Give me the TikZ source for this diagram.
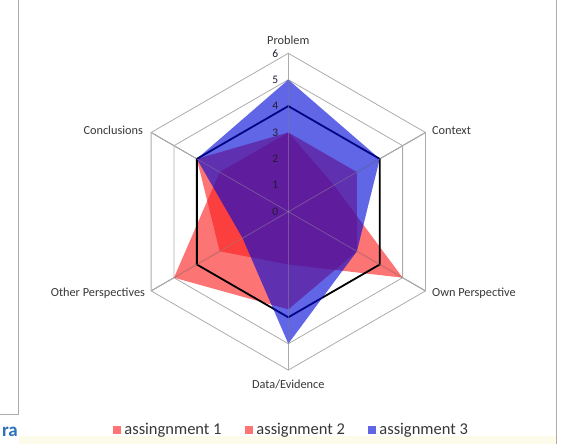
\documentclass[tikz,border=0pt]{standalone}
\usepackage{fontspec}
\setmainfont{Carlito}
\usepackage{xcolor}
\usetikzlibrary{positioning}

\definecolor{gridgray}{RGB}{172,172,172}
\definecolor{labelgray}{RGB}{55,55,55}
\definecolor{tickgray}{RGB}{35,25,45}
\definecolor{seriesred}{RGB}{250,30,30}
\definecolor{seriesblue}{RGB}{0,8,215}
\definecolor{cutblue}{RGB}{45,115,185}
\definecolor{creamband}{RGB}{253,251,234}

% one radar polygon: style, then the six values (Problem, Context, Own, Data, Other, Conclusions)
\newcommand{\radarpoly}[7]{%
  \path[#1] (90:#2*\rad) -- (30:#3*\rad) -- (-30:#4*\rad) -- (-90:#5*\rad)
    -- (210:#6*\rad) -- (150:#7*\rad) -- cycle;}

\begin{document}
\begin{tikzpicture}[x=1pt, y=1pt,
    ring/.style={draw=gridgray, line width=0.8pt},
    spoke/.style={draw=gridgray, line width=0.8pt},
    spokeover/.style={draw=gridgray, line width=0.8pt, draw opacity=0.4},
    axislabel/.style={font=\fontsize{12.3}{14}\selectfont, text=labelgray, inner sep=1pt},
    ticklabel/.style={font=\fontsize{11.5}{13}\selectfont, text=tickgray, inner sep=1pt, anchor=east},
    redseries/.style={fill=seriesred, fill opacity=0.62},
    blueseries/.style={fill=seriesblue, fill opacity=0.62},
    target/.style={draw=black, line width=1.8pt, line join=miter},
    legendkey/.style={minimum size=8pt, inner sep=0pt},
    legendtext/.style={font=\fontsize{16.5}{19}\selectfont, text=labelgray, inner sep=1pt}
]
\useasboundingbox (0,0) rectangle (561,444);
\def\rad{26.4}

% Frame of the chart
\fill[creamband] (19,0) rectangle (556,8);
\draw[gridgray, line width=0.8pt] (18,444) -- (18,30) -- (0,30);
\draw[gridgray, line width=0.8pt] (556,0) -- (556,444);
\node[font=\bfseries\fontsize{19}{22}\selectfont, text=cutblue, anchor=east, inner sep=0pt] (cut) at (18,12) {ra};

\begin{scope}[shift={(288.3,232.3)}]
    \coordinate (ctr) at (0,0);
    \foreach \a/\n in {90/ax1, 30/ax2, -30/ax3, -90/ax4, 210/ax5, 150/ax6}
        \coordinate (\n) at (\a:6*\rad);

    % Grid (inner rings lie under the fills)
    \foreach \r in {4,5,6}
        \radarpoly{ring}{\r}{\r}{\r}{\r}{\r}{\r}
    \foreach \n in {ax1,ax2,ax3,ax4,ax5,ax6}
        \draw[spoke] (ctr) -- (\n);

    % Series
    \radarpoly{redseries}{3}{2}{5}{2}{3}{4}
    \radarpoly{redseries}{3}{3}{3}{3.7}{5}{3}
    \radarpoly{target}{4}{4}{4}{4}{4}{4}
    \radarpoly{blueseries}{5}{4}{3}{5}{2}{4}

    % Spokes seen through the fills
    \foreach \n in {ax1,ax2,ax3,ax4,ax5,ax6}
        \draw[spokeover] (ctr) -- (\n);

    % Scale
    \foreach \v in {0,...,6}
        \node[ticklabel] (tick\v) at (-9,\v*\rad) {\v};

    % Axis labels
    \node[axislabel, above=8pt of ax1] (lblproblem) {Problem};
    \node[axislabel, right=5.5pt of ax2, yshift=2pt] (lblcontext) {Context};
    \node[axislabel, right=5.5pt of ax3, yshift=-2.5pt] (lblown) {Own Perspective};
    \node[axislabel, below=9pt of ax4] (lbldata) {Data/Evidence};
    \node[axislabel, left=5pt of ax5, yshift=-2.5pt] (lblother) {Other Perspectives};
    \node[axislabel, left=7pt of ax6, yshift=2pt] (lblconcl) {Conclusions};
\end{scope}

% Legend
\node[legendkey, fill=seriesred, fill opacity=0.62] (key1) at (117,14) {};
\node[legendtext, right=2pt of key1] (leg1) {assingnment 1};
\node[legendkey, fill=seriesred, fill opacity=0.62] (key2) at (249,14) {};
\node[legendtext, right=2pt of key2] (leg2) {assignment 2};
\node[legendkey, fill=seriesblue, fill opacity=0.62] (key3) at (372,14) {};
\node[legendtext, right=2pt of key3] (leg3) {assignment 3};
\end{tikzpicture}
\end{document}
